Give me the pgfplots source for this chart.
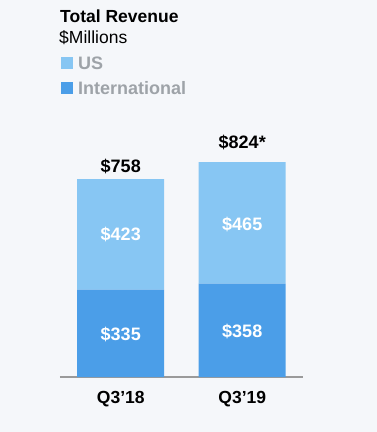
\documentclass[border=0pt]{standalone}
\usepackage{pgfplots}
\pgfplotsset{compat=1.18}
\usepackage{fontspec}
\setmainfont{Liberation Sans}
\definecolor{bgc}{HTML}{F5F7FA}
\definecolor{usc}{HTML}{87C6F3}
\definecolor{intc}{HTML}{4B9EE8}
\definecolor{legc}{HTML}{9EA3A8}
\definecolor{axc}{HTML}{9A9A9A}
\begin{document}
\begin{tikzpicture}
\fill[bgc] (0,0) rectangle (377pt,432pt);
\useasboundingbox (0,0) rectangle (377pt,432pt);
\node[anchor=base west, inner sep=0, font=\fontsize{17.5}{20}\selectfont\bfseries] at (60pt,{432pt-23pt}) {Total Revenue};
\node[anchor=base west, inner sep=0, font=\fontsize{17.5}{20}\selectfont] at (59pt,{432pt-44pt}) {\$Millions};
\begin{axis}[
  at={(60pt,55pt)}, anchor=south west,
  scale only axis, width=243pt, height=235pt,
  xmin=-0.5, xmax=1.5, ymin=0, ymax=900,
  ybar stacked, bar width=87pt,
  axis x line=bottom, axis y line=none,
  axis line style={draw=axc, line width=1.5pt, -},
  xtick={0,1}, xticklabels={Q3’18,Q3’19},
  major tick length=0pt,
  xticklabel style={anchor=base, yshift=-27pt, inner sep=0pt, font=\fontsize{17.5}{20}\selectfont\bfseries},
  clip=false,
  reverse legend,
  legend style={draw=none, fill=none, at={(0.004,1.366)}, anchor=north west, inner sep=0pt,
    row sep=12pt, font=\fontsize{18}{20}\selectfont\bfseries, text=legc,
    nodes={inner sep=0pt, text height=13pt, text depth=0pt, anchor=base west}},
  legend image code/.code={\fill[#1] (0pt,0pt) rectangle (12pt,12.5pt);},
  /tikz/every odd column/.append style={column sep=5pt},
]
\addplot[fill=intc, draw=none] coordinates {(0,335) (1,358)};
\addplot[fill=usc, draw=none] coordinates {(0,423) (1,465)};
\legend{International, US}
\coordinate (a1) at (axis cs:0,139);
\coordinate (a2) at (axis cs:1,150);
\coordinate (b1) at (axis cs:0,521);
\coordinate (b2) at (axis cs:1,560);
\node[anchor=base, inner sep=0, font=\fontsize{18}{20}\selectfont\bfseries] at (axis cs:0,785) {\$758};
\node[anchor=base, inner sep=0, font=\fontsize{18}{20}\selectfont\bfseries] at (axis cs:1,876) {\$824*};
\end{axis}
\begin{scope}[every node/.style={anchor=base, text=white, inner sep=0, font=\fontsize{18}{20}\selectfont\bfseries}]
\node at (a1) {\$335};
\node at (a2) {\$358};
\node at (b1) {\$423};
\node at (b2) {\$465};
\end{scope}
\end{tikzpicture}
\end{document}
